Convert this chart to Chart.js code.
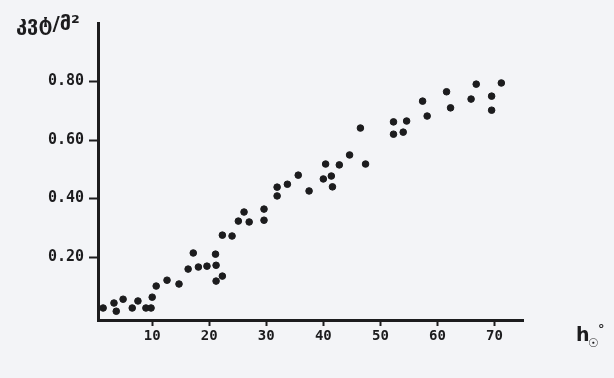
<!DOCTYPE html>
<html>
<head>
<meta charset="utf-8">
<script src="https://cdn.jsdelivr.net/npm/chart.js@4.4.1/dist/chart.umd.min.js"></script>
<style>
  html, body { margin: 0; padding: 0; background: #f3f4f7; }
  #wrap { width: 614px; height: 378px; position: relative; }
</style>
</head>
<body>
<div id="wrap"><canvas id="chart"></canvas></div>
<script>
// solar altitude (degrees) and radiation
const altitude = [
  1.4, 3.3, 3.7, 4.9, 6.5, 7.5, 8.9, 9.8, 10.0, 10.7,
  12.6, 14.7, 16.3, 17.2, 18.1, 19.6, 21.1, 21.2, 21.2, 22.3,
  22.3, 24.0, 25.1, 26.1, 27.0, 29.6, 29.6, 31.9, 31.9, 33.7,
  35.6, 37.5, 40.0, 41.4, 40.4, 42.8, 41.6, 44.6, 47.4, 46.5,
  52.3, 54.6, 52.3, 54.0, 57.4, 58.2, 61.6, 62.3, 65.9, 66.8,
  69.5, 69.5, 71.2
];
const radiation = [
  0.026, 0.043, 0.015, 0.056, 0.026, 0.050, 0.026, 0.026, 0.063, 0.101,
  0.121, 0.108, 0.159, 0.214, 0.166, 0.169, 0.210, 0.172, 0.118, 0.135,
  0.275, 0.272, 0.323, 0.354, 0.320, 0.364, 0.326, 0.439, 0.409, 0.449,
  0.480, 0.426, 0.467, 0.477, 0.518, 0.515, 0.440, 0.549, 0.518, 0.641,
  0.662, 0.665, 0.620, 0.627, 0.733, 0.682, 0.765, 0.710, 0.740, 0.791,
  0.750, 0.702, 0.795
];
const xTicks = [10, 20, 30, 40, 50, 60, 70];
const yTicks = [0.2, 0.4, 0.6, 0.8];
const yTickLabels = ['0.20', '0.40', '0.60', '0.80'];
const yTitle = 'კვტ/მ²';

const points = altitude.map((a, i) => ({ x: a, y: radiation[i] }));

const ink = '#1c1c1e';

const paper = {
  id: 'paper',
  beforeDraw(chart) {
    const c = chart.ctx;
    c.save();
    c.fillStyle = '#f3f4f7';
    c.fillRect(0, 0, chart.width, chart.height);
    c.restore();
  },
  afterDraw(chart) {
    const c = chart.ctx;
    c.save();
    c.fillStyle = ink;
    c.textBaseline = 'alphabetic';
    // unit label top left
    c.font = 'bold 20px "DejaVu Sans"';
    c.fillText(yTitle, 16, 30);
    // h with sun subscript and degree
    c.font = 'bold 19px "DejaVu Sans"';
    c.fillText('h', 576, 341);
    c.font = 'bold 12px "DejaVu Sans"';
    c.fillText('☉', 588, 347);
    c.font = 'bold 13px "DejaVu Sans"';
    c.fillText('°', 598, 333);
    c.restore();
  }
};

new Chart(document.getElementById('chart'), {
  type: 'scatter',
  data: {
    datasets: [{
      data: points,
      backgroundColor: ink,
      borderColor: ink,
      pointRadius: 3.3,
      pointHoverRadius: 3.3
    }]
  },
  options: {
    responsive: true,
    maintainAspectRatio: false,
    animation: false,
    layout: { padding: { left: 0, top: 23, right: 91, bottom: 0 } },
    plugins: { legend: { display: false }, tooltip: { enabled: false } },
    scales: {
      x: {
        type: 'linear',
        min: 0.5,
        max: 75,
        afterBuildTicks: (s) => { s.ticks = xTicks.map(v => ({ value: v })); },
        afterFit: (s) => { s.height = 58; },
        border: { display: true, width: 3, color: ink },
        grid: { drawOnChartArea: false, drawTicks: true, tickLength: 6, tickWidth: 2, tickColor: ink },
        ticks: {
          padding: 2,
          color: ink,
          font: { family: '"DejaVu Sans Mono"', size: 14, weight: 'bold' },
          callback: (v) => String(v)
        }
      },
      y: {
        type: 'linear',
        min: -0.015,
        max: 1.0,
        afterBuildTicks: (s) => { s.ticks = yTicks.map(v => ({ value: v })); },
        afterFit: (s) => { s.width = 98; },
        border: { display: true, width: 3, color: ink },
        grid: { drawOnChartArea: false, drawTicks: true, tickLength: 9, tickWidth: 2, tickColor: ink },
        ticks: {
          padding: 5,
          color: ink,
          font: { family: '"DejaVu Sans Mono"', size: 15, weight: 'bold' },
          callback: (v) => yTickLabels[yTicks.indexOf(v)] || ''
        }
      }
    }
  },
  plugins: [paper]
});
</script>
</body>
</html>
